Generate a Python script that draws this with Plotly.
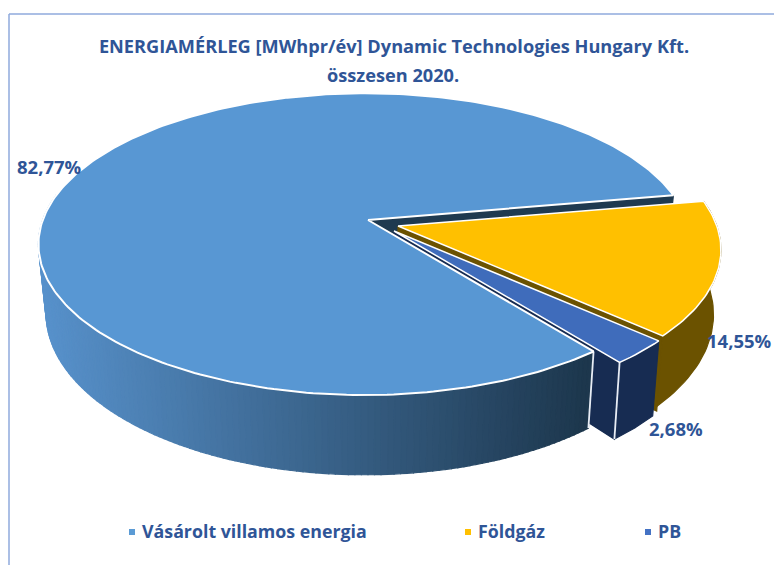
import numpy as np
import plotly.graph_objects as go

TITLE_LINES = ["ENERGIAMÉRLEG [MWhpr/év] Dynamic Technologies Hungary Kft.", "összesen 2020."]
CATEGORIES = ["Vásárolt villamos energia", "Földgáz", "PB"]
SHARES = [82.77, 14.55, 2.68]
TOP_COLORS = ["#5897d3", "#ffc000", "#3f6cbb"]
LEGEND_COLORS = ["#5b9bd5", "#ffc000", "#4472c4"]
TEXT = "#2f5597"
FONT = "Open Sans"

# projection of the tilted disc onto the 774x565 page
CX, CY, RX, RY, K, J, DEPTH, SHRINK = 368, 220, 322, 147, 0.16, 0.01, 67, 0.977
START = 10.1
OFFSETS = [(0, 0), (30, 6), (26, 11)]

def top(deg, off=(0, 0)):
    t = np.radians(np.asarray(deg, float))
    u, v = np.cos(t), np.sin(t)
    w = 1 + K * v + J * u
    return CX + off[0] + RX * u / w, CY + off[1] - RY * v / w

def bottom(deg, off=(0, 0), depth=DEPTH):
    x, y = top(deg, off)
    t = np.radians(np.asarray(deg, float))
    w = 1 + K * np.sin(t)
    return CX + off[0] + (x - CX - off[0]) * SHRINK, y + depth / w

main_end = START + 360 * SHARES[0] / 100
gold_start, gold_end = START, START - 360 * SHARES[1] / 100
pb_start, pb_end = gold_end, gold_end - 360 * SHARES[2] / 100

fig = go.Figure()

def poly(xs, ys, color, line=None, width=0, name=None):
    fig.add_trace(go.Scatter(
        x=list(xs), y=list(ys), mode="lines", fill="toself", fillcolor=color,
        line=dict(color=line or color, width=width if line else 1.2),
        hoverinfo="skip", showlegend=False, name=name))

def wedge(a0, a1, off):
    ang = np.linspace(a0, a1, max(int(abs(a1 - a0)), 8))
    x, y = top(ang, off)
    ax, ay = CX + off[0], CY + off[1]
    return np.r_[ax, x, ax], np.r_[ay, y, ay]

def radial_wall(a, off, color):
    x, y = top(a, off)
    bx, by = bottom(a, off)
    ax, ay = CX + off[0], CY + off[1]
    poly([ax, x, bx, ax, ax], [ay, y, by, ay + DEPTH, ay], color)

def outer_wall(a0, a1, off, color, depth=DEPTH):
    ang = np.linspace(a0, a1, 40)
    x, y = top(ang, off)
    bx, by = bottom(ang, off, depth)
    poly(np.r_[x, bx[::-1], x[0]], np.r_[y, by[::-1], y[0]], color)

def seam(a, off):
    px, py = top(a, off)
    qx, qy = bottom(a, off)
    fig.add_trace(go.Scatter(x=[px, qx], y=[py, qy], mode="lines",
                             line=dict(color="#e8edf5", width=1.8),
                             hoverinfo="skip", showlegend=False))

# inner wall of the big slice behind the gas slice
radial_wall(START, OFFSETS[0], "#1f3a50")

# natural gas slice
radial_wall(gold_end, OFFSETS[1], "#6b5200")
outer_wall(gold_start, gold_end, OFFSETS[1], "#6b5200", 63)
xs, ys = wedge(gold_start, gold_end, OFFSETS[1])
poly(xs, ys, TOP_COLORS[1], "#ffffff", 1.5, CATEGORIES[1])

# LPG slice
radial_wall(pb_end, OFFSETS[2], "#172c52")
outer_wall(pb_start, pb_end, OFFSETS[2], "#172c52")
seam(pb_end, OFFSETS[2])
xs, ys = wedge(pb_start, pb_end, OFFSETS[2])
poly(xs, ys, TOP_COLORS[2], "#ffffff", 1.5, CATEGORIES[2])

# big slice outer wall with a left-to-right shading
wall_a = np.r_[np.arange(170, main_end, 1.0), main_end]
C0, C1 = np.array([0x58, 0x92, 0xcc]), np.array([0x1d, 0x37, 0x4d])
for a0, a1 in zip(wall_a[:-1], wall_a[1:]):
    x0, y0 = top(a0); x1, y1 = top(a1)
    bx0, by0 = bottom(a0); bx1, by1 = bottom(a1)
    f = np.clip(((x0 + x1) / 2 - 40) / 550, 0, 1)
    c = C0 + (C1 - C0) * f
    poly([x0, x1, bx1, bx0, x0], [y0, y1, by1, by0, y0], "rgb(%d,%d,%d)" % tuple(c))
seam(main_end, OFFSETS[0])

xs, ys = wedge(START, main_end, OFFSETS[0])
poly(xs, ys, TOP_COLORS[0], "#ffffff", 2, CATEGORIES[0])

# legend
LEG_X = [132, 468, 648]
LEG_Y = 532
for xp, cat, col in zip(LEG_X, CATEGORIES, LEGEND_COLORS):
    fig.add_trace(go.Scatter(x=[xp], y=[LEG_Y], mode="markers",
                             marker=dict(symbol="square", size=6, color=col),
                             name=cat, showlegend=False, hoverinfo="name"))
    fig.add_annotation(x=xp + 8, y=LEG_Y - 1, text=f"<b>{cat}</b>", showarrow=False,
                       xanchor="left", yanchor="middle",
                       font=dict(family=FONT, size=17.8, color=TEXT))

# percent labels
LABEL_POS = [(49, 166), (739, 340), (676, 428)]
for (lx, ly), s in zip(LABEL_POS, SHARES):
    fig.add_annotation(x=lx, y=ly, text="<b>%s%%</b>" % f"{s:.2f}".replace(".", ","),
                       showarrow=False, xanchor="center", yanchor="middle",
                       font=dict(family=FONT, size=18.5, color=TEXT))

# title, two lines with the reference's wider line pitch
fig.add_annotation(x=393, y=75, text=f"<b>{TITLE_LINES[1]}</b>", showarrow=False,
                   xanchor="center", yanchor="middle",
                   font=dict(family=FONT, size=18.2, color=TEXT))

fig.update_layout(
    width=774, height=565, margin=dict(l=0, r=0, t=0, b=0),
    paper_bgcolor="white", plot_bgcolor="white", showlegend=False,
    title=dict(text=f"<b>{TITLE_LINES[0]}</b>", x=394 / 774, xanchor="center",
               y=1 - 47 / 565, yanchor="middle",
               font=dict(family=FONT, size=18.2, color=TEXT)),
    xaxis=dict(range=[0, 774], visible=False, fixedrange=True),
    yaxis=dict(range=[565, 0], visible=False, fixedrange=True),
    shapes=[
        dict(type="line", xref="x", yref="y", x0=9, x1=9, y0=14, y1=565, line=dict(color="#8faadc", width=1.5)),
        dict(type="line", xref="x", yref="y", x0=9, x1=774, y0=14, y1=14, line=dict(color="#8faadc", width=1.5)),
    ],
)
fig.write_html("out.html", config={"displayModeBar": False},
               post_script="document.body.style.margin='0';document.documentElement.style.overflow='hidden';")
